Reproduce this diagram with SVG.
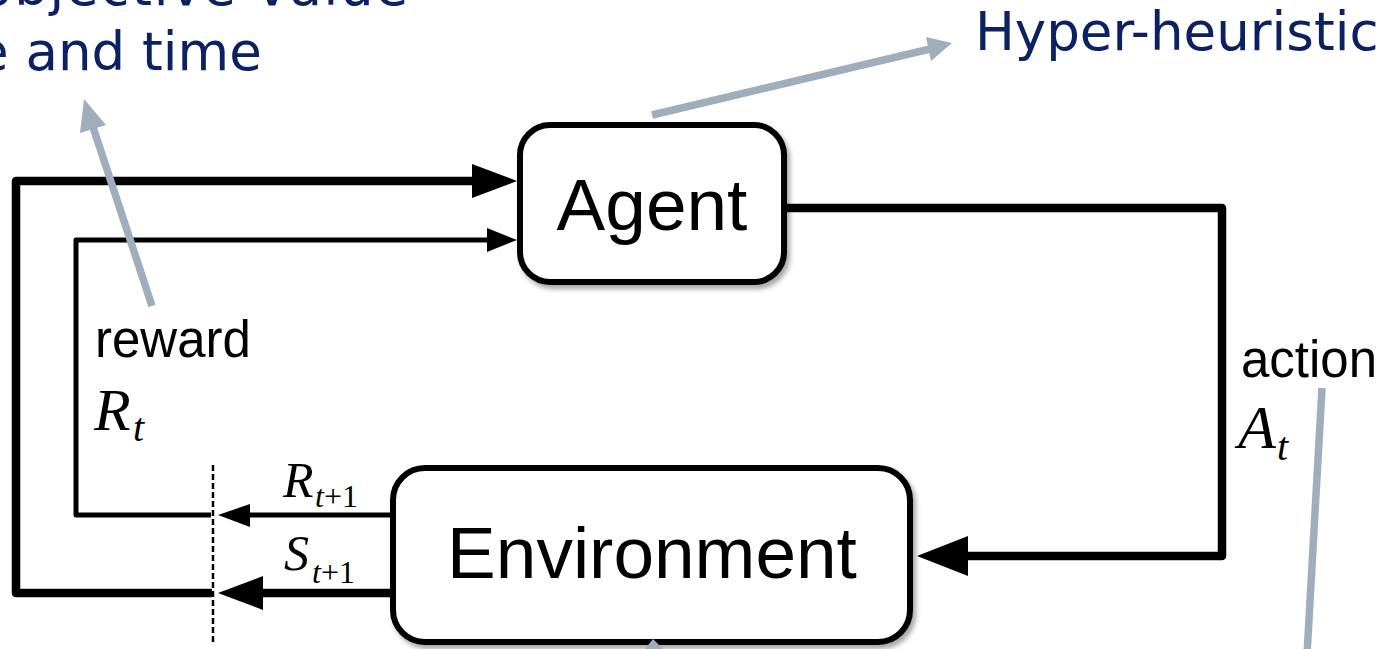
<svg xmlns="http://www.w3.org/2000/svg" width="1393" height="649" viewBox="0 0 1393 649">
<style>
.box{fill:#fff;stroke:#000;stroke-width:6}
.lbl{font-family:"Liberation Sans",Arial,sans-serif;fill:#000}
.math{font-family:"Liberation Serif","Times New Roman",serif;fill:#000}
.it{font-style:italic}
.note{font-family:"DejaVu Sans",Verdana,sans-serif;fill:#0b2162;font-size:53px}
.thick{fill:none;stroke:#000;stroke-width:8.5;stroke-linejoin:round;stroke-linecap:butt}
.thin{fill:none;stroke:#000;stroke-width:5;stroke-linejoin:round}
.head{fill:#000}
.gray{fill:none;stroke:#a0adbb;stroke-width:7.5}
.ghead{fill:#a0adbb}
</style>
<defs>
<filter id="sh" x="-10%" y="-10%" width="125%" height="130%">
<feDropShadow dx="3" dy="4" stdDeviation="2.5" flood-color="#000" flood-opacity="0.35"/>
</filter>
</defs>
<rect width="1393" height="649" fill="#fff"/>

<g id="connectors">
<polyline class="thick" points="787,208 1222,208 1222,556 966,556"/>
<polygon class="head" points="917,556 968,536 968,576"/>
<line class="thick" x1="393" y1="593" x2="260" y2="593"/>
<polygon class="head" points="218,593 263,576 263,610"/>
<polyline class="thick" points="212,593 16,593 16,181 474,181"/>
<polygon class="head" points="517,181 472,164 472,198"/>
<line class="thin" x1="393" y1="515" x2="248" y2="515"/>
<polygon class="head" points="218,515 250,504 250,527"/>
<polyline class="thin" points="211,515 76,515 76,240 490,240"/>
<polygon class="head" points="517,240 487,228 487,252"/>
<line x1="213" y1="465" x2="213" y2="645" stroke="#000" stroke-width="2.5" stroke-dasharray="6 3"/>
</g>

<g id="agent">
<rect class="box" x="520" y="125" width="264" height="157" rx="30" filter="url(#sh)"/>
<text class="lbl" x="652" y="230" font-size="73" text-anchor="middle">Agent</text>
</g>

<g id="environment">
<rect class="box" x="393" y="468" width="517" height="174" rx="32" filter="url(#sh)"/>
<text class="lbl" x="652" y="578" font-size="73" text-anchor="middle">Environment</text>
</g>

<g id="labels">
<text class="lbl" x="95" y="357" font-size="51">reward</text>
<text class="math it" x="94" y="430" font-size="60">R</text>
<text class="math it" x="133" y="441" font-size="40">t</text>
<text class="lbl" x="1241" y="377" font-size="51">action</text>
<text class="math it" x="1238" y="448" font-size="62">A</text>
<text class="math it" x="1277" y="460" font-size="40">t</text>
<text class="math it" x="283" y="497" font-size="50">R</text>
<text class="math" x="315" y="507" font-size="32"><tspan class="it">t</tspan>+1</text>
<text class="math it" x="284" y="570" font-size="50">S</text>
<text class="math" x="312" y="583" font-size="32"><tspan class="it">t</tspan>+1</text>
</g>

<g id="annotations">
<text class="note" x="-20" y="5" textLength="428" lengthAdjust="spacing">objective value</text>
<text class="note" x="-24" y="70">e and time</text>
<text class="note" x="975" y="50">Hyper-heuristic</text>
<line class="gray" x1="152" y1="306" x2="92" y2="124"/>
<polygon class="ghead" points="84,99 106,125 80,133"/>
<line class="gray" x1="652" y1="115" x2="930" y2="49"/>
<polygon class="ghead" points="952,43 931,61 926,37"/>
<line class="gray" x1="1322" y1="388" x2="1307" y2="655"/>
<polygon class="ghead" points="653,639 645,649 663,649"/>
</g>
</svg>
